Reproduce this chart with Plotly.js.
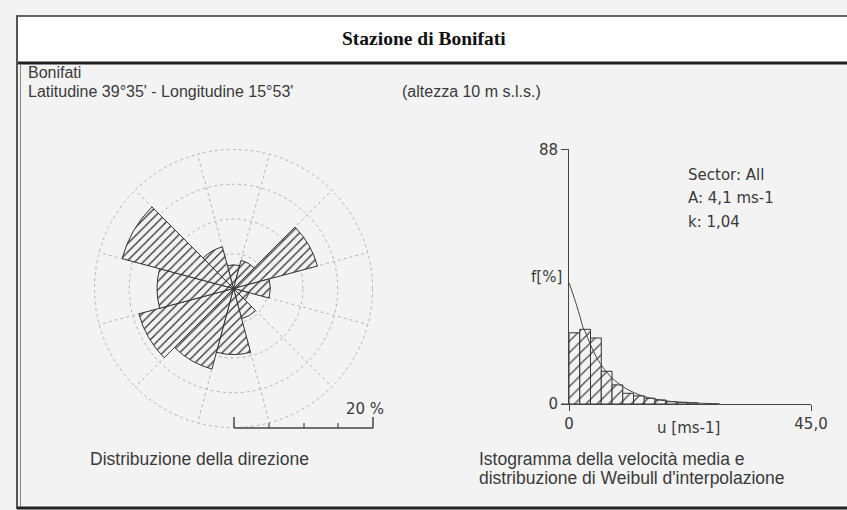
<!DOCTYPE html>
<html>
<head>
<meta charset="utf-8">
<script src="https://cdn.plot.ly/plotly-3.0.1.min.js"></script>
<style>html,body{margin:0;padding:0;background:#f3f3f3;}#chart{width:847px;height:510px;}</style>
</head>
<body>
<div id="chart"></div>
<script>
// ---- data ----
const directions = [0, 30, 60, 90, 120, 150, 180, 210, 240, 270, 300, 330];
const dirFreq = [3.4, 4.2, 12.5, 5.3, 2.3, 4.5, 9.5, 12.0, 14.1, 11.0, 16.6, 6.2];
const sectorEdges = [15, 45, 75, 105, 135, 165, 195, 225, 255, 285, 315, 345];
const ringValues = [5, 10, 15, 20];

const speedBins = [1, 3, 5, 7, 9, 11, 13, 15, 17, 19, 21, 23];
const speedFreq = [24.6, 25.8, 22.8, 11.3, 6.6, 3.7, 2.8, 2.0, 1.4, 0.8, 0.6, 0.4];
const weibullX = [0, 1, 2, 2.6, 3, 4, 5, 6, 7, 8, 10, 12, 14, 16, 18, 20, 24, 28];
const weibullY = [41.9, 36.5, 30.5, 26.5, 25.0, 20.5, 16.5, 13.5, 11.0, 9.0, 6.0, 4.0, 2.6, 1.7, 1.1, 0.7, 0.3, 0.1];
const xTickVals = [0, 45];
const xTickText = ['0', '45,0'];
const yTickVals = [0, 88];
const yTickText = ['0', '88'];

const titleText = 'Stazione di Bonifati';
const stationName = 'Bonifati';
const coordText = "Latitudine 39°35' - Longitudine 15°53'";
const heightText = '(altezza 10 m s.l.s.)';
const roseCaption = 'Distribuzione della direzione';
const histCaption1 = 'Istogramma della velocità media e';
const histCaption2 = "distribuzione di Weibull d'interpolazione";
const sectorLines = ['Sector: All', 'A: 4,1 ms-1', 'k: 1,04'];
const scaleLabel = '20 %';

// ---- helpers (pixel -> paper) ----
const W = 847, H = 510;
const px = x => x / W;
const py = y => 1 - y / H;

const sansA = 'Liberation Sans, Arial, sans-serif';
const sansV = 'DejaVu Sans, Verdana, sans-serif';
const txtCol = '#3a3a3a';
const gridCol = '#b4b4b4';

const traces = [
  {
    type: 'barpolar',
    r: dirFreq,
    theta: directions,
    width: directions.map(() => 30),
    marker: {
      color: '#f3f3f3',
      line: {color: '#333', width: 1},
      pattern: {shape: '/', fgcolor: '#333', bgcolor: '#f3f3f3', size: 6, solidity: 0.22}
    },
    hoverinfo: 'skip',
    showlegend: false
  },
  {
    type: 'bar',
    x: speedBins,
    y: speedFreq,
    width: speedBins.map(() => 2),
    xaxis: 'x', yaxis: 'y',
    marker: {
      color: '#f3f3f3',
      line: {color: '#333', width: 1},
      pattern: {shape: '/', fgcolor: '#444', bgcolor: '#f3f3f3', size: 8, solidity: 0.15}
    },
    hoverinfo: 'skip',
    showlegend: false
  },
  {
    type: 'scatter',
    mode: 'lines',
    x: weibullX,
    y: weibullY,
    line: {color: '#444', width: 1, shape: 'spline'},
    xaxis: 'x', yaxis: 'y',
    hoverinfo: 'skip',
    showlegend: false
  }
];

const ann = (x, y, text, opts) => Object.assign({
  xref: 'paper', yref: 'paper', x: px(x), y: py(y), text: text, showarrow: false,
  xanchor: 'left', yanchor: 'middle', font: {family: sansA, size: 16, color: txtCol}
}, opts || {});

const capFont = {family: sansA, size: 17.5, color: txtCol};
const vFont = {family: sansV, size: 15, color: txtCol};

const annotations = [
  ann(423.5, 39, '<b>' + titleText + '</b>', {xanchor: 'center', font: {family: 'Liberation Serif, Times New Roman, serif', size: 19.5, color: '#111'}}),
  ann(26, 73, stationName),
  ann(26, 91, coordText),
  ann(400, 91, heightText),
  ann(386, 409, scaleLabel, {xanchor: 'right', font: vFont}),
  ann(199, 459, roseCaption, {xanchor: 'center', font: capFont}),
  ann(477, 459, histCaption1, {font: capFont}),
  ann(477, 478, histCaption2, {font: capFont}),
  ann(564, 277, 'f[%]', {xanchor: 'right', font: vFont}),
  ann(688, 428, 'u [ms-1]', {xanchor: 'center', font: vFont})
];
sectorLines.forEach((t, i) => {
  annotations.push(ann(686, 175 + i * 23.5, t, {font: vFont}));
});

const ln = (x0, y0, x1, y1, color, width) => ({
  type: 'line', xref: 'paper', yref: 'paper', x0: px(x0), y0: py(y0), x1: px(x1), y1: py(y1),
  line: {color: color, width: width}, layer: 'below'
});

// polar disc geometry: radius 139 px for 20 %
const cx = 233.5, cy = 288.5, rPx = 139;

const shapes = [
  {type: 'rect', xref: 'paper', yref: 'paper', x0: px(17), y0: py(16), x1: px(900), y1: py(63), fillcolor: '#ffffff', line: {width: 0}, layer: 'below'},
  ln(17, 16, 900, 16, '#666', 2),
  ln(17, 63, 900, 63, '#222', 3),
  ln(17, 15, 17, 509, '#555', 2),
  ln(20.5, 64, 20.5, 507, '#888', 1),
  ln(17, 508, 900, 508, '#222', 3),
  // outer 20 % ring of the rose
  {type: 'circle', xref: 'paper', yref: 'paper', x0: px(cx - rPx), x1: px(cx + rPx), y0: py(cy + rPx), y1: py(cy - rPx),
   line: {color: gridCol, width: 1, dash: 'dot'}, layer: 'below'},
  // scale bar
  ln(234, 428, 373, 428, '#444', 1.5),
  ln(234, 428, 234, 417, '#444', 1.5),
  ln(373, 428, 373, 417, '#444', 1.5),
  ln(269, 428, 269, 423, '#444', 1.2),
  ln(304, 428, 304, 423, '#444', 1.2),
  ln(338, 428, 338, 423, '#444', 1.2),
  // x-axis extension to the left of origin
  ln(561, 404, 569, 404, '#444', 1)
];

const layout = {
  width: W, height: H,
  margin: {l: 0, r: 0, t: 0, b: 0},
  paper_bgcolor: '#f3f3f3',
  plot_bgcolor: 'rgba(0,0,0,0)',
  showlegend: false,
  polar: {
    domain: {x: [px(cx - rPx), px(cx + rPx)], y: [py(cy + rPx), py(cy - rPx)]},
    bgcolor: 'rgba(0,0,0,0)',
    radialaxis: {
      range: [0, 20], tickmode: 'array', tickvals: ringValues, showticklabels: false,
      ticks: '', showline: false, gridcolor: gridCol, gridwidth: 1, griddash: 'dot'
    },
    angularaxis: {
      rotation: 90, direction: 'clockwise', tickmode: 'array', tickvals: sectorEdges,
      showticklabels: false, ticks: '', gridcolor: gridCol, gridwidth: 1, griddash: 'dot',
      showline: false
    }
  },
  xaxis: {
    domain: [px(569), px(811)], range: [0, 45], anchor: 'y',
    tickmode: 'array', tickvals: xTickVals, ticktext: xTickText,
    ticks: 'outside', ticklen: 6, tickcolor: '#444', showline: true, linecolor: '#444', linewidth: 1,
    showgrid: false, zeroline: false, tickfont: vFont
  },
  yaxis: {
    domain: [py(404), py(149.3)], range: [0, 88], anchor: 'x',
    tickmode: 'array', tickvals: yTickVals, ticktext: yTickText,
    ticks: 'outside', ticklen: 7, tickcolor: '#444', showline: true, linecolor: '#444', linewidth: 1,
    showgrid: false, zeroline: false, tickfont: vFont
  },
  bargap: 0,
  annotations: annotations,
  shapes: shapes
};

Plotly.newPlot('chart', traces, layout, {displayModeBar: false, staticPlot: true});
</script>
</body>
</html>
